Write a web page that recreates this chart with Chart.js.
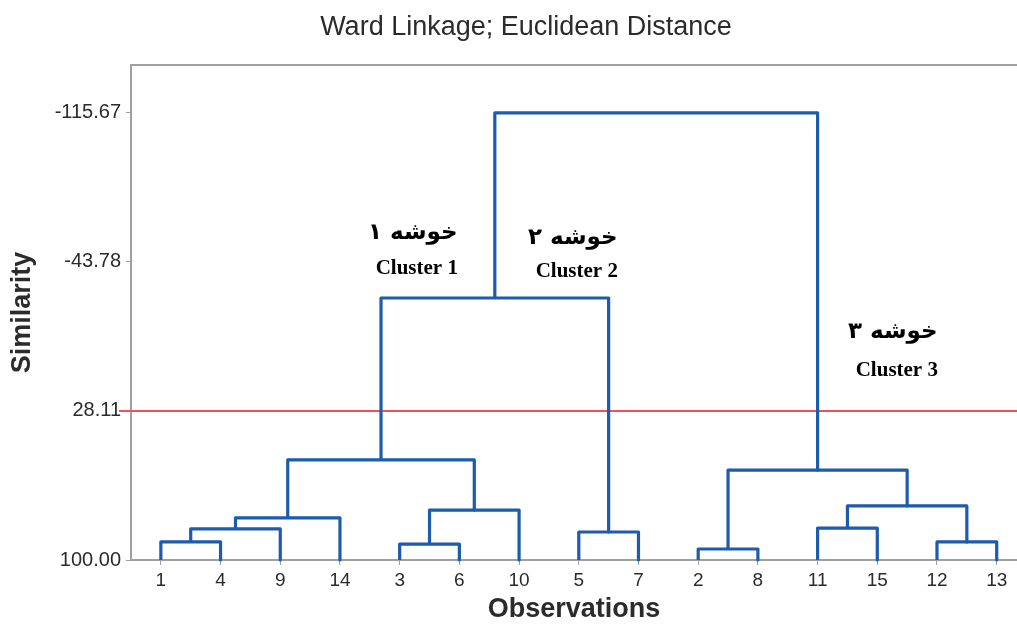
<!DOCTYPE html>
<html>
<head>
<meta charset="utf-8">
<script src="https://cdn.jsdelivr.net/npm/chart.js@4.4.0/dist/chart.umd.min.js"></script>
<style>
html, body { margin: 0; padding: 0; background: #fff; }
#wrap { width: 1017px; height: 627px; position: relative; }
</style>
</head>
<body>
<div id="wrap"><canvas id="chart"></canvas></div>
<script>
// Leaves in the order they appear along the x axis
let leafLabels = ["1", "4", "9", "14", "3", "6", "10", "5", "7", "2", "8", "11", "15", "12", "13"];
// Each merge joins two nodes (0..14 are leaves, merge k makes node 15 + k)
let mergeLeft = [0, 15, 16, 4, 18, 17, 7, 20, 9, 11, 13, 24, 23, 22];
let mergeRight = [1, 2, 3, 5, 6, 19, 8, 21, 10, 12, 14, 25, 26, 27];
let mergeHeight = [91.3, 85.0, 79.7, 92.3, 75.9, 51.7, 86.5, -26.4, 94.7, 84.6, 91.3, 73.9, 56.6, -115.67];
// Similarity ticks and the cut line
let yTicks = [-115.67, -43.78, 28.11, 100.00];
let cutLevel = 28.11;
// Cluster notes
let clusterNames = ["خوشه ۱", "خوشه ۲", "خوشه ۳"];
let clusterLabels = ["Cluster 1", "Cluster 2", "Cluster 3"];
// where the notes sit (x in leaf slots, y in similarity units)
let noteX = [4.22, 6.9, 12.26];
let noteY = [-57.8, -55.4, -10.0];
let subY = [-40.4, -39.0, 8.8];

let blue = "#1d5bad";
let red = "#f0505a";
let axisGrey = "#a0a0a0";
let textColor = "#2b2b2b";

Chart.defaults.font.family = "'Liberation Sans', Arial, sans-serif";

// Build the U shapes of the dendrogram
let nodeX = leafLabels.map((_, i) => i);
let nodeY = leafLabels.map(() => 100);
let datasets = [];
for (let k = 0; k < mergeLeft.length; k++)
{
    let a = mergeLeft[k];
    let b = mergeRight[k];
    let h = mergeHeight[k];
    datasets.push({
        data: [
            { x: nodeX[a], y: nodeY[a] },
            { x: nodeX[a], y: h },
            { x: nodeX[b], y: h },
            { x: nodeX[b], y: nodeY[b] }
        ],
        showLine: true,
        borderColor: blue,
        borderWidth: 3.2,
        pointRadius: 0,
        borderJoinStyle: "round",
        clip: false
    });
    nodeX.push((nodeX[a] + nodeX[b]) / 2);
    nodeY.push(h);
}

// Extra drawing: title, top border, red cut line and the cluster notes
let extras = {
    id: "extras",
    beforeDatasetsDraw(chart)
    {
        let ctx = chart.ctx;
        let area = chart.chartArea;
        let yScale = chart.scales.y;
        ctx.save();
        ctx.strokeStyle = axisGrey;
        ctx.lineWidth = 2;
        ctx.beginPath();
        ctx.moveTo(area.left - 1, area.top);
        ctx.lineTo(area.right, area.top);
        ctx.stroke();

        let yCut = yScale.getPixelForValue(cutLevel);
        ctx.strokeStyle = red;
        ctx.lineWidth = 2;
        ctx.beginPath();
        ctx.moveTo(area.left - 12, yCut);
        ctx.lineTo(area.right, yCut);
        ctx.stroke();
        ctx.restore();
    },
    afterDatasetsDraw(chart)
    {
        let ctx = chart.ctx;
        let xScale = chart.scales.x;
        let yScale = chart.scales.y;
        ctx.save();
        ctx.fillStyle = textColor;
        ctx.textAlign = "center";
        ctx.textBaseline = "middle";
        ctx.font = "27px 'Liberation Sans', Arial, sans-serif";
        ctx.fillText("Ward Linkage; Euclidean Distance", 526, 28);

        ctx.fillStyle = "#000";
        for (let i = 0; i < clusterNames.length; i++)
        {
            let px = xScale.getPixelForValue(noteX[i]);
            ctx.font = "bold 23px 'DejaVu Sans', sans-serif";
            ctx.fillText(clusterNames[i], px, yScale.getPixelForValue(noteY[i]));
            ctx.font = "bold 21px 'Liberation Serif', 'Times New Roman', serif";
            ctx.fillText(clusterLabels[i], px + 4, yScale.getPixelForValue(subY[i]));
        }
        ctx.restore();
    }
};

new Chart(document.getElementById("chart"),
{
    type: "scatter",
    data: { datasets: datasets },
    options:
    {
        responsive: true,
        maintainAspectRatio: false,
        animation: false,
        layout: { padding: { top: 65, right: 0, left: 0, bottom: 0 } },
        plugins:
        {
            legend: { display: false },
            tooltip: { enabled: false },
            title: { display: false }
        },
        scales:
        {
            x:
            {
                type: "linear",
                min: -0.5,
                max: 14.34,
                afterBuildTicks: (scale) => { scale.ticks = leafLabels.map((_, i) => ({ value: i })); },
                afterFit: (scale) => { scale.height = 67; },
                ticks:
                {
                    callback: (v) => leafLabels[v],
                    autoSkip: false,
                    maxRotation: 0,
                    color: textColor,
                    font: { size: 19 },
                    padding: 4
                },
                grid: { drawOnChartArea: false, tickLength: 5, color: axisGrey },
                border: { color: axisGrey, width: 2 },
                title:
                {
                    display: true,
                    text: "Observations",
                    color: textColor,
                    font: { size: 27, weight: "bold" },
                    padding: { top: 0, bottom: 1 }
                }
            },
            y:
            {
                type: "linear",
                reverse: true,
                min: -138.8,
                max: 100,
                afterBuildTicks: (scale) => { scale.ticks = yTicks.map((v) => ({ value: v })); },
                afterFit: (scale) => { scale.width = 131; },
                ticks:
                {
                    callback: (v) => v.toFixed(2),
                    color: textColor,
                    font: { size: 20 },
                    padding: 5
                },
                grid: { drawOnChartArea: false, tickLength: 5, color: axisGrey },
                border: { color: axisGrey, width: 2 },
                title:
                {
                    display: true,
                    text: "Similarity",
                    color: textColor,
                    font: { size: 27, weight: "bold" },
                    padding: { top: 6, bottom: 0 }
                }
            }
        }
    },
    plugins: [extras]
});
</script>
</body>
</html>
